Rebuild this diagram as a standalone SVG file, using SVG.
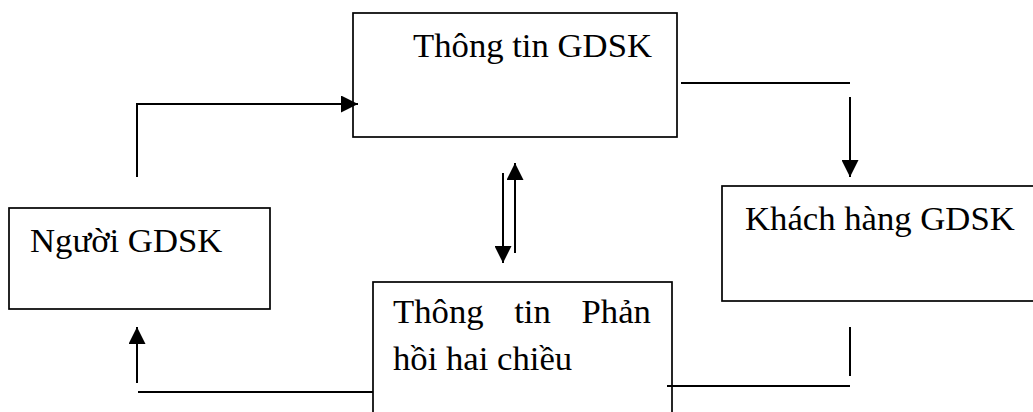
<svg xmlns="http://www.w3.org/2000/svg" width="1033" height="412" viewBox="0 0 1033 412">
<style>
.box{fill:#fff;stroke:#000;stroke-width:1.7}
.t{font-family:"Liberation Serif","Times New Roman",serif;font-size:34.7px;fill:#000}
.c{fill:none;stroke:#000;stroke-width:2}
</style>
<defs>
<marker id="ah" markerUnits="userSpaceOnUse" markerWidth="17" markerHeight="17" refX="17" refY="8.5" orient="auto">
<path d="M0,0 L17,8.5 L0,17 z" fill="#000"/>
</marker>
</defs>
<rect width="1033" height="412" fill="#fff"/>
<g id="node-thongtin">
<rect class="box" x="353" y="13" width="324" height="124"/>
<text class="t" x="413" y="57">Thông tin GDSK</text>
</g>
<g id="node-nguoi">
<rect class="box" x="9" y="208" width="261" height="101"/>
<text class="t" x="30" y="252">Người GDSK</text>
</g>
<g id="node-khachhang">
<rect class="box" x="722" y="186" width="330" height="115"/>
<text class="t" x="745" y="230">Khách hàng GDSK</text>
</g>
<g id="node-phanhoi">
<rect class="box" x="373" y="282" width="299" height="150"/>
<text class="t" x="393" y="323" word-spacing="22">Thông tin Phản</text>
<text class="t" x="393" y="370">hồi hai chiều</text>
</g>
<g id="connectors">
<path class="c" d="M137,177 V104 H358" marker-end="url(#ah)"/>
<path class="c" d="M681,83 H850"/>
<path class="c" d="M850,97 V177" marker-end="url(#ah)"/>
<path class="c" d="M503,173 V263" marker-end="url(#ah)"/>
<path class="c" d="M515,253 V163" marker-end="url(#ah)"/>
<path class="c" d="M850,327 V376"/>
<path class="c" d="M667,386 H850"/>
<path class="c" d="M373,392 H138"/>
<path class="c" d="M137,383 V327" marker-end="url(#ah)"/>
</g>
</svg>
